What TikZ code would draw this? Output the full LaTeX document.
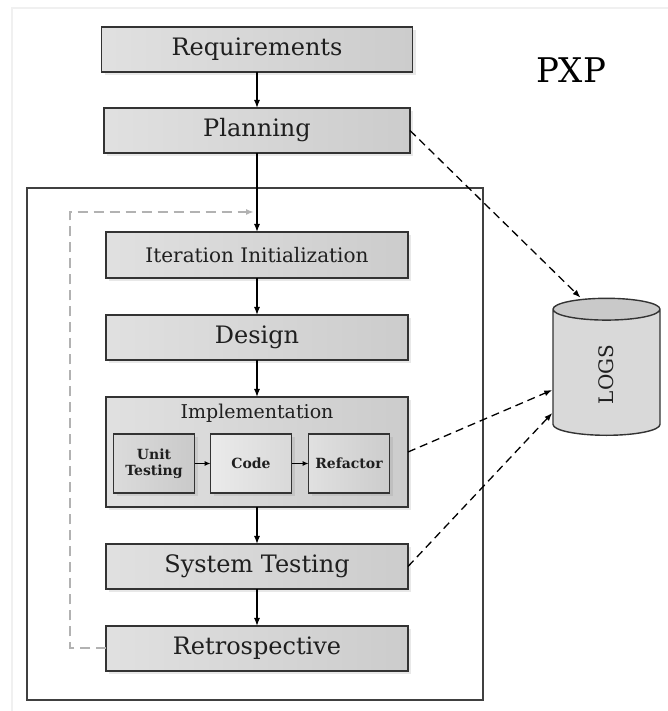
\documentclass[tikz,border=0pt]{standalone}
\usepackage{fontspec}
\setmainfont{DejaVu Serif}
\usetikzlibrary{positioning,shapes.geometric,shadows,arrows.meta}
\tikzstyle{stage} = [rectangle,minimum width=302pt,minimum height=45pt,text centered,
                     outer sep=0pt,draw=black!80,line width=1.5pt,left color=gray!24,right color=gray!40,
                     drop shadow={shadow xshift=3pt,shadow yshift=-3pt,opacity=.18},
                     text=black!88,font=\fontsize{24}{28}\selectfont]
\tikzstyle{substage} = [stage,minimum width=81pt,minimum height=59pt,align=center,
                        inner sep=2pt,font=\fontsize{14}{16}\selectfont\bfseries]
\tikzstyle{arrow} = [line width=1.3pt,->,>={Latex[length=8pt,width=6pt]}]
\tikzstyle{logline} = [line width=1.3pt,dash pattern=on 8pt off 5pt,->,>={Latex[length=8pt,width=6pt]}]
\tikzstyle{loopline} = [gray!60,line width=2pt,dash pattern=on 10pt off 6pt,->,>={Latex[length=8pt,width=6pt]}]
\tikzstyle{logs} = [cylinder,rotate=90,aspect=1,draw=black!80,line width=1.4pt,
                    cylinder uses custom fill,cylinder body fill=gray!30,cylinder end fill=gray!42,
                    minimum width=107pt,minimum height=137pt,text=black!88,
                    font=\fontsize{20}{22}\selectfont]

\begin{document}
\begin{tikzpicture}[x=1pt,y=1pt,node distance=37pt]
 \useasboundingbox (0,0) rectangle (667,711);
 \draw [gray!12,line width=2pt] (12,703) rectangle (672,-4);
 \draw [black!75,line width=1.4pt,fill=white] (27,523) rectangle (483,11);

 \node (RQ) [stage,minimum width=311pt] at (257,661.5) {Requirements};
 \node (PL) [stage,below=36pt of RQ,minimum width=306pt] {Planning};
 \node (IT) [stage,below=79pt of PL,minimum height=46pt,font=\fontsize{20}{24}\selectfont]
            {Iteration Initialization};
 \node (DE) [stage,below=of IT] {Design};
 \node (IM) [stage,below=of DE,minimum height=110pt] {};
 \node (IMt) [below=4pt of IM.north,text=black!88,font=\fontsize{19}{22}\selectfont] {Implementation};
 \node (CO) [substage,below=37pt of IM.north,xshift=-6pt,left color=gray!16,right color=gray!30] {Code};
 \node (UT) [substage,left=16pt of CO,left color=gray!28,right color=gray!42] {Unit\\Testing};
 \node (RF) [substage,right=17pt of CO] {Refactor};
 \node (ST) [stage,below=of IM] {System Testing};
 \node (RE) [stage,below=of ST] {Retrospective};

 \node (PX) at (571,641) {\fontsize{34}{38}\selectfont PXP};
 \node (LG) [logs] at (606.5,336.5) {LOGS};

 \coordinate (LB) at (70,499);
 \coordinate (LE) at (254,499);

 \draw [arrow] (RQ) -- (PL);
 \draw [arrow] (PL) -- (IT);
 \draw [arrow] (IT) -- (DE);
 \draw [arrow] (DE) -- (IM);
 \draw [arrow] (IM) -- (ST);
 \draw [arrow] (ST) -- (RE);
 \draw [arrow,line width=1pt,>={Latex[length=6pt,width=5pt]}] (UT) -- (CO);
 \draw [arrow,line width=1pt,>={Latex[length=6pt,width=5pt]}] (CO) -- (RF);

 \draw [loopline] (RE.west) -| (LB) -- (LE);

 \draw [logline] (PL.east) -- ([xshift=-26pt]LG.east);
 \draw [logline] (IM.east) -- ([yshift=-15.5pt]LG.north);
 \draw [logline] (ST.east) -- ([yshift=-38.5pt]LG.north);
\end{tikzpicture}
\end{document}
